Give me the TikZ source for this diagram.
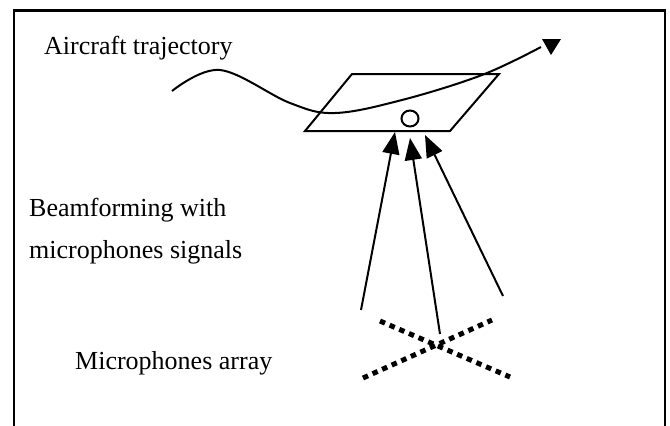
\documentclass[tikz,border=0pt]{standalone}
\usepackage{fontspec}
\setmainfont{Liberation Serif}
\usetikzlibrary{arrows.meta}
\begin{document}
\begin{tikzpicture}[x=1pt,y=-1pt,
  label/.style={anchor=base west,inner sep=0pt,font=\fontsize{26}{30}\selectfont},
  edge/.style={line width=2pt,line join=miter},
  beam/.style={line width=2pt,-{Triangle[length=22pt,width=17pt]}},
  mic/.style={line width=5pt,dash pattern=on 5.5pt off 5pt}]
\useasboundingbox (0,0) rectangle (670,426);
% open frame (no bottom edge)
\draw[line width=2.5pt] (14,426) -- (14,10.5) -- (665,10.5) -- (665,426);
% texts
\node[label] (traj) at (44,54) {Aircraft trajectory};
\node[label] (bf1) at (29,216) {Beamforming with};
\node[label] (bf2) at (29,258) {microphones signals};
\node[label] (arr) at (75,369) {Microphones array};
% observation plane
\coordinate (p1) at (352,74);
\coordinate (p2) at (499,74);
\coordinate (p3) at (450,131);
\coordinate (p4) at (305,131);
\draw[edge] (p1) -- (p2) -- (p3) -- (p4) -- cycle;
% source on the plane
\draw[line width=2pt] (410,118.5) ellipse [x radius=8.5, y radius=8];
% trajectory
\draw[line width=2pt] plot[smooth,tension=0.6] coordinates
  {(172,91) (220,70) (290,103) (335,113) (402,100) (482,75) (541,47)};
\fill (542,39) -- (561,39) -- (551,55) -- cycle;
% beams from microphones to the source
\coordinate (m1) at (361,310);
\coordinate (m2) at (440,334);
\coordinate (m3) at (503,296);
\coordinate (t1) at (395,132);
\coordinate (t2) at (410,138);
\coordinate (t3) at (425,135);
\draw[beam] (m1) -- (t1);
\draw[beam] (m2) -- (t2);
\draw[beam] (m3) -- (t3);
% microphone array
\coordinate (a1) at (380,321);
\coordinate (a2) at (510,377);
\coordinate (b1) at (363,378);
\coordinate (b2) at (492,320);
\draw[mic] (a1) -- (a2);
\draw[mic] (b1) -- (b2);
\end{tikzpicture}
\end{document}
